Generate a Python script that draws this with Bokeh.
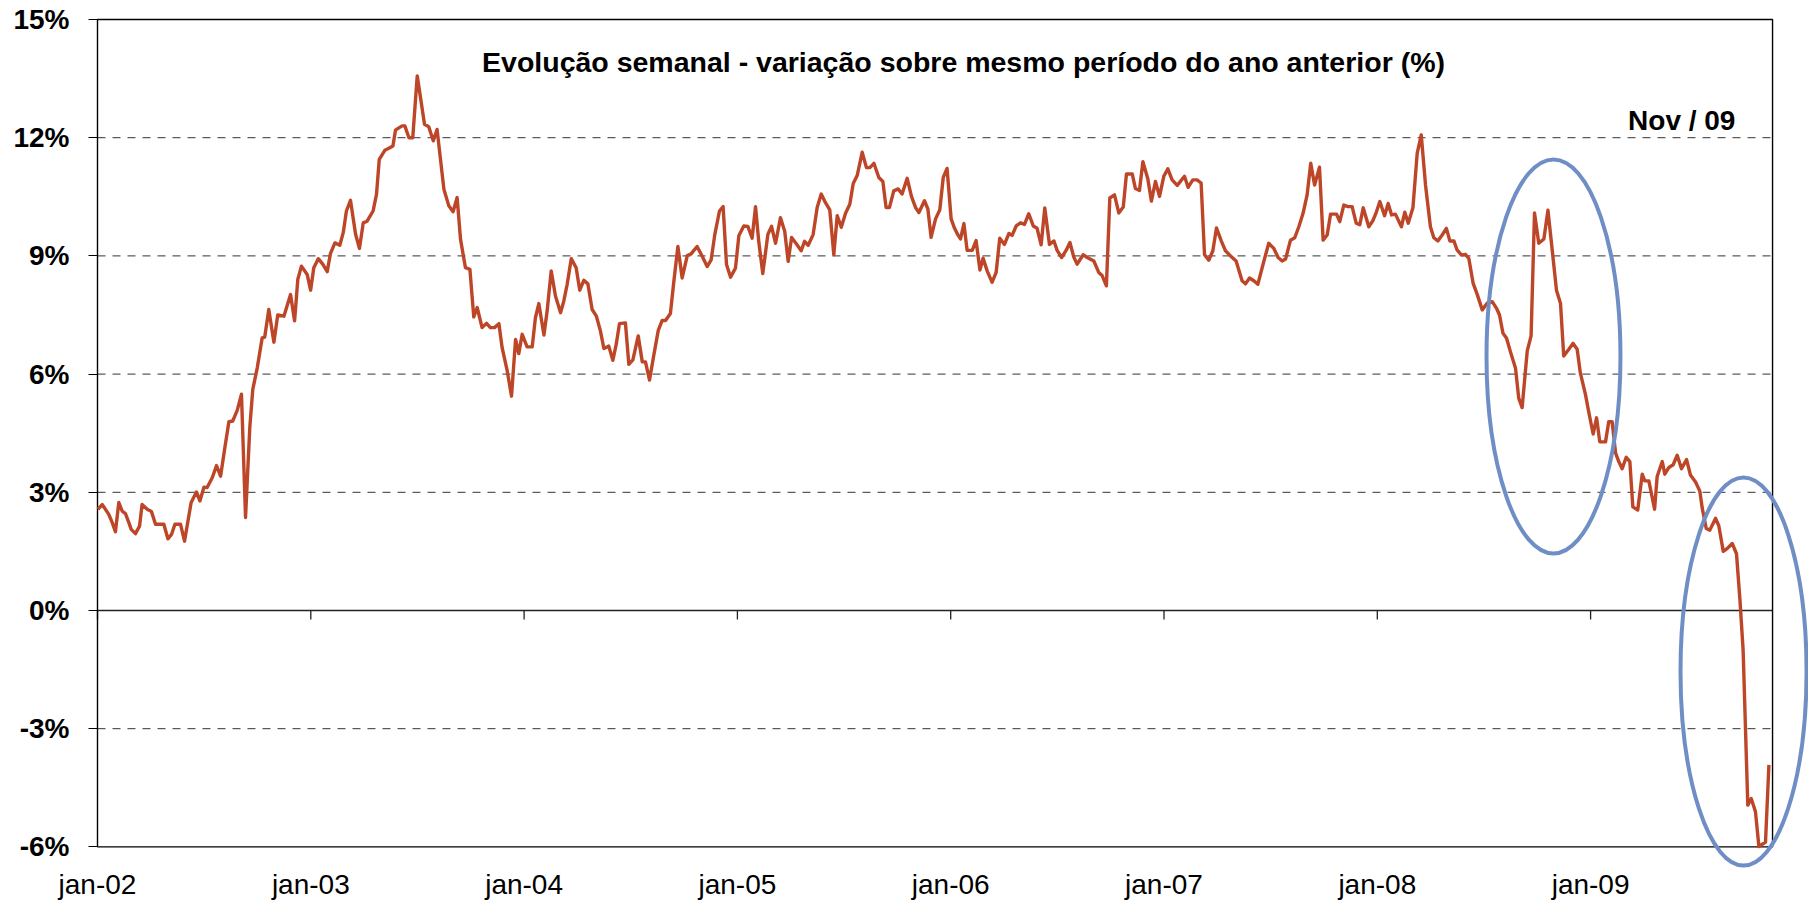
from bokeh.plotting import figure
from bokeh.models import Range1d, FixedTicker, PrintfTickFormatter, Label
from bokeh.embed import file_html
from bokeh.resources import INLINE

# ---------------- data ----------------
START_YEAR = 2002
# time in years since the first week of Jan 2002 (weekly observations)
t_years = [
    0.002, 0.022, 0.053, 0.069, 0.084, 0.100, 0.116, 0.131, 0.147, 0.158, 0.178, 0.197, 0.209, 0.233,
    0.253, 0.272, 0.311, 0.330, 0.347, 0.363, 0.389, 0.408, 0.439, 0.464, 0.480, 0.499, 0.514, 0.538,
    0.558, 0.577, 0.597, 0.616, 0.634, 0.655, 0.675, 0.694, 0.714, 0.728, 0.749, 0.772, 0.784, 0.803,
    0.827, 0.845, 0.874, 0.905, 0.924, 0.939, 0.956, 0.983, 0.999, 1.014, 1.035, 1.056, 1.077, 1.092,
    1.113, 1.136, 1.152, 1.167, 1.186, 1.210, 1.228, 1.246, 1.264, 1.292, 1.308, 1.321, 1.347,
    1.366, 1.385, 1.397, 1.413, 1.428, 1.441, 1.460, 1.478, 1.499, 1.533, 1.553, 1.574, 1.592, 1.608,
    1.624, 1.647, 1.667, 1.686, 1.702, 1.725, 1.746, 1.764, 1.780, 1.803, 1.824, 1.842, 1.861, 1.882,
    1.897, 1.921, 1.941, 1.960, 1.975, 1.991, 2.014, 2.038, 2.053, 2.069, 2.093, 2.108, 2.127, 2.147,
    2.171, 2.186, 2.202, 2.221, 2.244, 2.261, 2.280, 2.299, 2.319, 2.339, 2.358, 2.374, 2.397, 2.416,
    2.432, 2.447, 2.475, 2.491, 2.510, 2.535, 2.554, 2.569, 2.588, 2.608, 2.629, 2.647, 2.663, 2.686,
    2.702, 2.721, 2.741, 2.765, 2.783, 2.811, 2.835, 2.858, 2.877, 2.894, 2.916, 2.933, 2.949, 2.968,
    2.991, 3.007, 3.030, 3.049, 3.069, 3.085, 3.100, 3.119, 3.143, 3.160, 3.179, 3.202, 3.222, 3.238,
    3.254, 3.277, 3.299, 3.315, 3.332, 3.355, 3.374, 3.393, 3.413, 3.433, 3.452, 3.468, 3.487, 3.507,
    3.527, 3.543, 3.562, 3.585, 3.605, 3.621, 3.640, 3.663, 3.682, 3.697, 3.713, 3.733, 3.754, 3.772,
    3.796, 3.816, 3.835, 3.851, 3.877, 3.893, 3.908, 3.929, 3.949, 3.965, 3.983, 4.002, 4.018, 4.033,
    4.046,
    4.062, 4.077, 4.101, 4.119, 4.137, 4.152, 4.171, 4.194, 4.213, 4.230, 4.252, 4.273, 4.288, 4.307,
    4.327, 4.346, 4.366, 4.387, 4.405, 4.424, 4.441, 4.463, 4.484, 4.499, 4.520, 4.541, 4.559, 4.577,
    4.593, 4.621, 4.640, 4.671, 4.694, 4.710, 4.730, 4.746, 4.768, 4.788, 4.809, 4.824, 4.851, 4.866,
    4.885, 4.901, 4.924, 4.941, 4.960, 4.979, 4.999, 5.018, 5.038, 5.062, 5.077, 5.096, 5.113, 5.135,
    5.155, 5.174, 5.190, 5.210, 5.229, 5.246, 5.268, 5.288, 5.312, 5.338, 5.366, 5.382, 5.401, 5.421,
    5.440, 5.468, 5.491, 5.515, 5.535, 5.554, 5.570, 5.593, 5.613, 5.632, 5.652, 5.671, 5.688, 5.706,
    5.729, 5.746, 5.765, 5.781, 5.809, 5.824, 5.843, 5.862, 5.882, 5.901, 5.918, 5.934, 5.960, 5.979,
    5.996, 6.012, 6.034, 6.051, 6.067, 6.085, 6.113, 6.129, 6.145, 6.167, 6.187, 6.206, 6.226, 6.249,
    6.265, 6.284, 6.304, 6.324, 6.340, 6.359, 6.374, 6.395, 6.413, 6.429, 6.449, 6.468, 6.492, 6.515,
    6.539, 6.559, 6.573, 6.589, 6.606, 6.624, 6.648, 6.663, 6.679,
    6.703, 6.721, 6.737, 6.757, 6.781, 6.800, 6.820, 6.840, 6.859, 6.874, 6.898, 6.918, 6.937, 6.952,
    6.976,
    6.992, 7.012, 7.028, 7.043, 7.070, 7.085, 7.101, 7.117, 7.132, 7.148, 7.167, 7.184, 7.198, 7.221,
    7.242, 7.254, 7.273, 7.300, 7.312, 7.336, 7.348, 7.367, 7.387, 7.406, 7.426, 7.450, 7.468, 7.492,
    7.512, 7.523, 7.542, 7.559, 7.586, 7.601, 7.622, 7.640, 7.664, 7.684, 7.700, 7.715, 7.737, 7.753,
    7.773, 7.789, 7.820, 7.836,
]
# weekly growth vs. same period of previous year (%)
growth_pct = [
    2.57, 2.69, 2.44, 2.23, 2.00, 2.74, 2.52, 2.46, 2.23, 2.06, 1.95, 2.14, 2.69, 2.57,
    2.51, 2.19, 2.19, 1.82, 1.93, 2.19, 2.19, 1.76, 2.74, 3.01, 2.78, 3.13, 3.12, 3.37,
    3.68, 3.41, 4.13, 4.79, 4.81, 5.08, 5.49, 2.36, 4.64, 5.61, 6.16, 6.92, 6.94, 7.64,
    6.81, 7.50, 7.47, 8.02, 7.35, 8.40, 8.74, 8.53, 8.13, 8.70, 8.93, 8.79, 8.60, 9.06,
    9.33, 9.27, 9.59, 10.14, 10.41, 9.55, 9.19, 9.84, 9.88, 10.14, 10.56, 11.45, 11.68,
    11.73, 11.79, 12.19, 12.25, 12.30, 12.30, 12.00, 12.00, 13.57, 12.34, 12.28, 11.92, 12.21, 11.45,
    10.69, 10.27, 10.12, 10.48, 9.42, 8.70, 8.66, 7.45, 7.69, 7.18, 7.29, 7.18, 7.18, 7.28,
    6.67, 6.08, 5.44, 6.88, 6.52, 7.01, 6.69, 6.69, 7.43, 7.79, 6.99, 7.60, 8.62, 7.98,
    7.56, 7.85, 8.28, 8.93, 8.70, 8.13, 8.38, 8.29, 7.64, 7.47, 7.09, 6.65, 6.71, 6.35,
    6.76, 7.28, 7.30, 6.25, 6.36, 6.97, 6.31, 6.31, 5.85, 6.48, 7.11, 7.36, 7.36, 7.54,
    8.35, 9.24, 8.44, 9.01, 9.05, 9.24, 8.99, 8.73, 8.90, 9.54, 10.14, 10.25, 8.78, 8.46,
    8.69, 9.52, 9.76, 9.75, 9.45, 10.25, 9.37, 8.55, 9.55, 9.75, 9.32, 9.97, 9.62, 8.86,
    9.47, 9.30, 9.13, 9.37, 9.27, 9.54, 10.23, 10.57, 10.35, 10.17, 9.03, 10.02, 9.73, 10.08,
    10.31, 10.84, 11.05, 11.63, 11.24, 11.24, 11.35, 10.99, 10.89, 10.23, 10.23, 10.65, 10.70, 10.57,
    10.97, 10.51, 10.23, 10.10, 10.40, 10.19, 9.47, 9.94, 10.17, 10.99, 11.22, 9.94, 9.70, 9.54,
    9.43,
    9.82, 9.14, 9.14, 9.39, 8.64, 8.94, 8.62, 8.33, 8.58, 9.45, 9.29, 9.57, 9.52, 9.76,
    9.84, 9.80, 10.07, 9.76, 9.70, 9.28, 10.22, 9.29, 9.38, 9.14, 8.96, 9.14, 9.34, 8.97,
    8.79, 9.03, 8.96, 8.87, 8.58, 8.50, 8.24, 10.47, 10.55, 10.09, 10.24, 11.08, 11.08, 10.71,
    10.66, 11.39, 10.96, 10.39, 10.89, 10.51, 11.02, 11.21, 10.93, 10.79, 10.89, 11.02, 10.74, 10.93,
    10.93, 10.85, 9.03, 8.89, 9.13, 9.71, 9.39, 9.13, 9.00, 8.87, 8.37, 8.29, 8.44, 8.37,
    8.28, 8.86, 9.32, 9.19, 8.96, 8.87, 8.92, 9.40, 9.46, 9.74, 10.08, 10.55, 11.35, 10.80,
    11.25, 9.40, 9.53, 10.06, 10.06, 9.87, 10.29, 10.25, 10.25, 9.83, 9.79, 10.22, 9.74, 9.89,
    10.12, 10.38, 10.02, 10.33, 10.04, 10.06, 9.74, 10.11, 9.83, 10.22, 11.60, 12.07, 10.80, 9.74,
    9.46, 9.38, 9.53, 9.70, 9.38, 9.38, 9.15, 9.02, 9.04, 8.94, 8.31, 8.03, 7.63, 7.80,
    7.84, 7.67, 7.50, 7.04, 6.91, 6.57, 6.15, 5.39, 5.15,
    6.59, 6.97, 10.09, 9.32, 9.43, 10.16, 9.15, 8.13, 7.79, 6.46, 6.63, 6.78, 6.63, 6.03,
    5.48,
    5.02, 4.48, 4.89, 4.28, 4.28, 4.79, 4.79, 4.00, 3.78, 3.60, 3.89, 3.78, 2.63, 2.55,
    3.46, 3.29, 3.29, 2.57, 3.40, 3.78, 3.46, 3.63, 3.70, 3.94, 3.60, 3.83, 3.44, 3.26,
    3.03, 2.61, 2.08, 2.04, 2.34, 2.15, 1.50, 1.57, 1.70, 1.44, 0.28, -1.00, -4.94, -4.77,
    -5.11, -5.99, -5.88, -3.92,
]

tick_years = [2002, 2003, 2004, 2005, 2006, 2007, 2008, 2009]
tick_labels = ["jan-02", "jan-03", "jan-04", "jan-05", "jan-06", "jan-07", "jan-08", "jan-09"]
y_ticks = [-6, -3, 0, 3, 6, 9, 12, 15]
grid_levels = [-3, 3, 6, 9, 12]
axis_end_year = 2009.853          # end of the category axis (Nov 2009)

title_text = "Evolução semanal - variação sobre mesmo período do ano anterior (%)"
period_text = "Nov / 09"

# highlighted regions (ellipses drawn by the author)
highlight_x = [2008.826, 2009.717]
highlight_y = [6.447, -1.548]
highlight_w = [0.628, 0.591]
highlight_h = [10.0, 9.85]

# ---------------- layout ----------------
PX_PER_YEAR = 213.3
PX_PER_PCT = 39.4
W, H = 1808, 905
BORDER_LEFT, BORDER_TOP, BORDER_BOTTOM = 95, 17, 37
PAD_LEFT_PX, PAD_TOP_PX = 2, 2

frame_w = W - BORDER_LEFT
frame_h = H - BORDER_TOP - BORDER_BOTTOM
x_start = START_YEAR - PAD_LEFT_PX / PX_PER_YEAR
x_end = x_start + frame_w / PX_PER_YEAR
y_end = max(y_ticks) + PAD_TOP_PX / PX_PER_PCT
y_start = y_end - frame_h / PX_PER_PCT

FONT = "Liberation Sans"
LINE_RED = "#BE4628"
ELLIPSE_BLUE = "#708EC6"
GRID_COLOR = "#333333"

p = figure(width=W, height=H, output_backend="svg", toolbar_location=None,
           x_range=Range1d(x_start, x_end), y_range=Range1d(y_start, y_end),
           min_border_left=BORDER_LEFT, min_border_top=BORDER_TOP,
           min_border_right=0, min_border_bottom=BORDER_BOTTOM)
p.outline_line_color = None
p.xgrid.visible = False
p.ygrid.visible = False
p.background_fill_color = "white"
p.border_fill_color = "white"

yax = p.yaxis[0]
yax.ticker = FixedTicker(ticks=y_ticks)
yax.formatter = PrintfTickFormatter(format="%d%%")
yax.axis_line_color = None
yax.major_tick_out = 7
yax.major_tick_in = 2
yax.major_tick_line_color = "black"
yax.minor_tick_out = 0
yax.minor_tick_in = 0
yax.major_label_standoff = 19
yax.major_label_text_font = FONT
yax.major_label_text_font_size = "28px"
yax.major_label_text_font_style = "bold"
yax.major_label_text_color = "black"

xax = p.xaxis[0]
xax.ticker = FixedTicker(ticks=tick_years)
xax.major_label_overrides = dict(zip(tick_years, tick_labels))
xax.axis_line_color = None
xax.major_tick_out = 0
xax.major_tick_in = 0
xax.minor_tick_out = 0
xax.minor_tick_in = 0
xax.major_label_standoff = 0
xax.major_label_text_font = FONT
xax.major_label_text_font_size = "28px"
xax.major_label_text_color = "black"

x0 = [START_YEAR] * len(grid_levels)
x1 = [axis_end_year] * len(grid_levels)
p.segment(x0=x0, y0=grid_levels, x1=x1, y1=grid_levels,
          line_color=GRID_COLOR, line_width=1, line_dash="8 7")

# zero line with yearly ticks
p.segment(x0=[START_YEAR], y0=[0], x1=[axis_end_year], y1=[0], line_color="#222222", line_width=1.3)
tick_len = 9 / PX_PER_PCT
p.segment(x0=tick_years, y0=[0] * len(tick_years), x1=tick_years,
          y1=[-tick_len] * len(tick_years), line_color="#222222", line_width=1.3)

# chart box
p.quad(left=[START_YEAR], right=[axis_end_year], bottom=[min(y_ticks)], top=[max(y_ticks)],
       fill_color=None, line_color="black", line_width=1.4)

xs = [START_YEAR + t for t in t_years]
p.line(xs, growth_pct, line_color=LINE_RED, line_width=3.4, line_join="round")

p.ellipse(x=highlight_x, y=highlight_y, width=highlight_w, height=highlight_h,
          fill_color=None, line_color=ELLIPSE_BLUE, line_width=4)

p.add_layout(Label(x=2006.06, y=13.92, text=title_text, text_font=FONT, text_font_size="28.5px",
                   text_font_style="bold", text_align="center", text_baseline="alphabetic",
                   text_color="black"))
p.add_layout(Label(x=2009.679, y=12.44, text=period_text, text_font=FONT, text_font_size="28px",
                   text_font_style="bold", text_align="right", text_baseline="alphabetic",
                   text_color="black"))

open("out.html", "w").write(file_html(p, INLINE))
